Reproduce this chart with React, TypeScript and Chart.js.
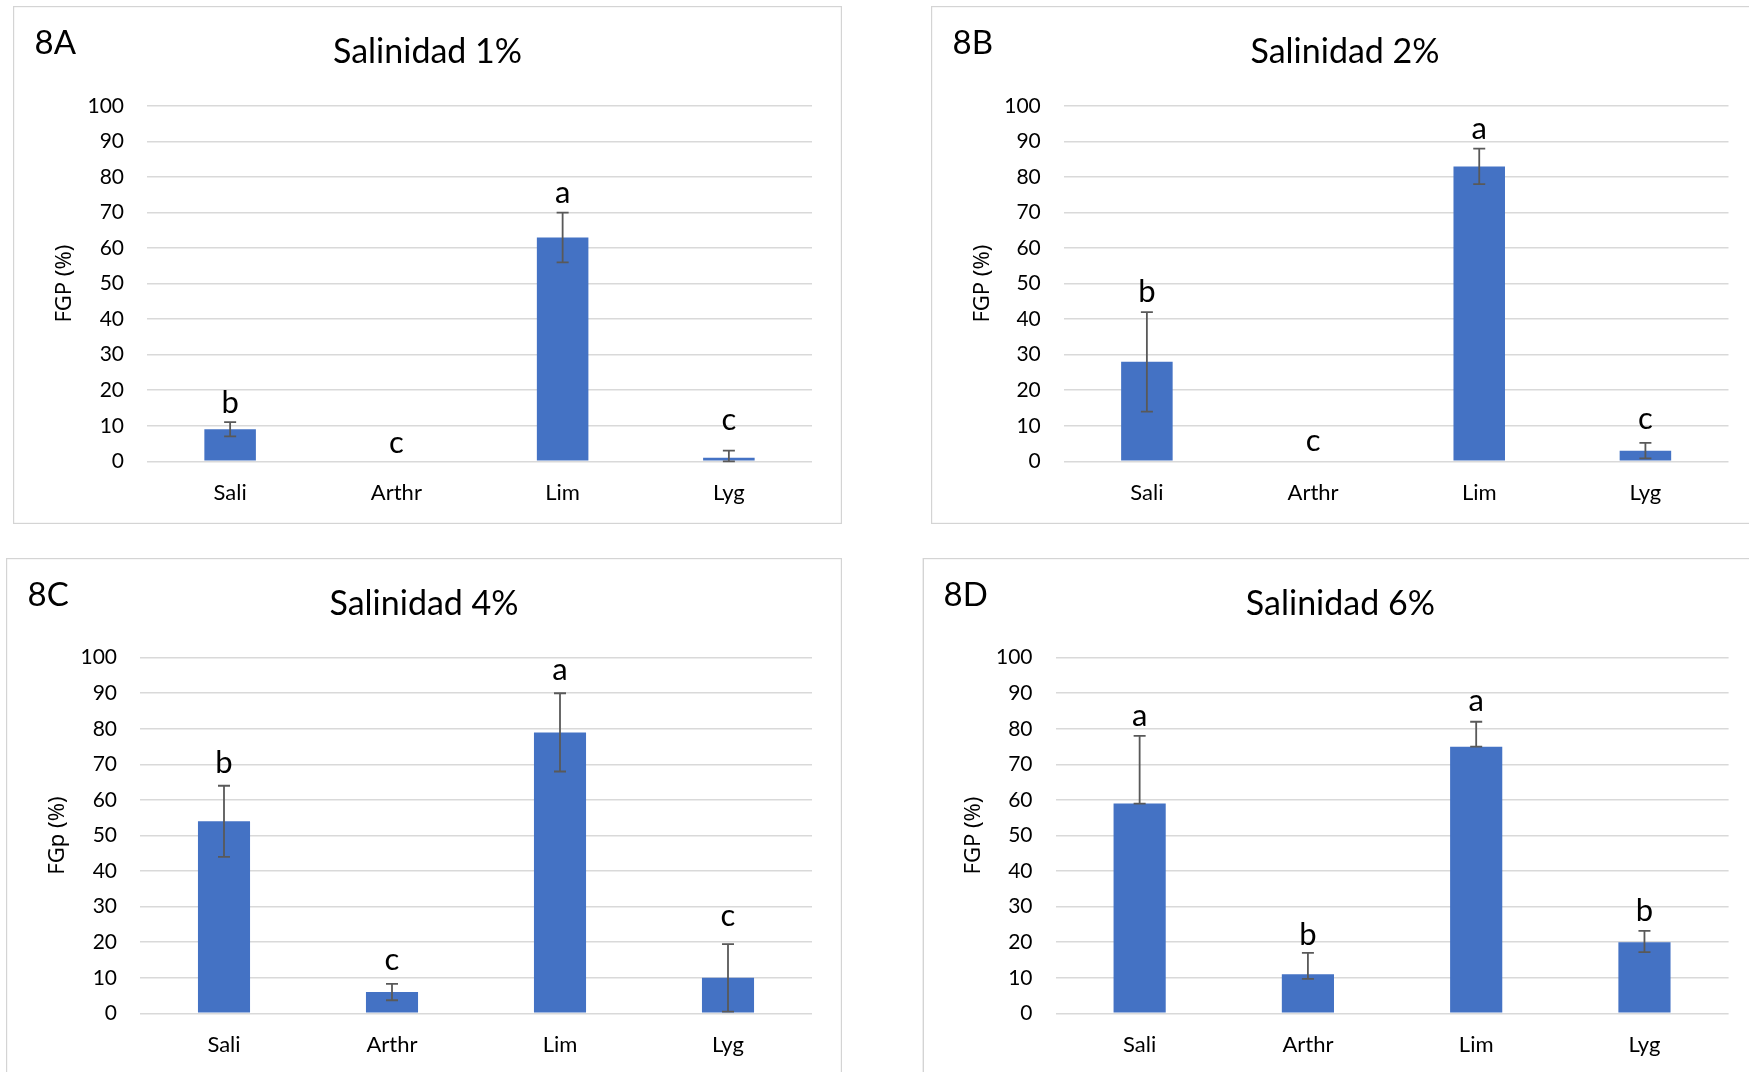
import React, { useEffect, useRef } from "react";
import { Chart, registerables } from "chart.js";

Chart.register(...registerables);

// ---------- data ----------
const categories = ["Sali", "Arthr", "Lim", "Lyg"];
const yMin = 0;
const yMax = 100;
const yStep = 10;

const panelLabels = ["8A", "8B", "8C", "8D"];
const panelTitles = ["Salinidad 1%", "Salinidad 2%", "Salinidad 4%", "Salinidad 6%"];
const yTitles = ["FGP (%)", "FGP (%)", "FGp (%)", "FGP (%)"];

const valuesA = [9, 0, 63, 1];
const errUpA = [2, 0, 7, 2];
const errDownA = [2, 0, 7, 2];
const lettersA = ["b", "c", "a", "c"];

const valuesB = [28, 0, 83, 3];
const errUpB = [14, 0, 5, 2.2];
const errDownB = [14, 0, 5, 2.2];
const lettersB = ["b", "c", "a", "c"];

const valuesC = [54, 6, 79, 10];
const errUpC = [10, 2.3, 11, 9.5];
const errDownC = [10, 2.3, 11, 9.5];
const lettersC = ["b", "c", "a", "c"];

const valuesD = [59, 11, 75, 20];
const errUpD = [19, 6, 7, 3.2];
const errDownD = [0, 1.3, 0, 2.8];
const lettersD = ["a", "b", "a", "b"];

// ---------- layout (positions / styles) ----------
const BAR_COLOR = "#4472C4";
const GRID_COLOR = "#D9D9D9";
const ERR_COLOR = "#595959";
const BORDER_COLOR = "#D4D4D4";
const FONT = "Lato";

type Geo = {
  left: number; top: number; w: number; h: number;
  area: { l: number; r: number; t: number; b: number };
  border: { x: number; y: number; w: number; h: number };
  titleX: number;
  letterGap: number[];
};

const geos: Geo[] = [
  { left: 13, top: 6, w: 829, h: 518, area: { l: 134, r: 799, t: 100, b: 455.3 }, border: { x: 0.5, y: 0.5, w: 828, h: 517 }, titleX: 414.5, letterGap: [9.5, 8.5, 10, 21] },
  { left: 931, top: 6, w: 818, h: 518, area: { l: 132.8, r: 797.5, t: 100, b: 455.3 }, border: { x: 0.5, y: 0.5, w: 900, h: 517 }, titleX: 414, letterGap: [10, 10, 9.5, 14] },
  { left: 6, top: 558, w: 836, h: 514, area: { l: 134, r: 806, t: 99.7, b: 455.4 }, border: { x: 0.5, y: 0.5, w: 835, h: 600 }, titleX: 418, letterGap: [12.5, 13.5, 13, 18] },
  { left: 922, top: 558, w: 827, h: 514, area: { l: 133.5, r: 806.6, t: 99.7, b: 455.4 }, border: { x: 1.3, y: 0.5, w: 900, h: 600 }, titleX: 418.4, letterGap: [10, 8, 10.5, 9.5] },
];

type PanelData = {
  values: number[]; up: number[]; down: number[]; letters: string[];
  label: string; title: string; yTitle: string;
};

const panels: PanelData[] = [
  { values: valuesA, up: errUpA, down: errDownA, letters: lettersA, label: panelLabels[0], title: panelTitles[0], yTitle: yTitles[0] },
  { values: valuesB, up: errUpB, down: errDownB, letters: lettersB, label: panelLabels[1], title: panelTitles[1], yTitle: yTitles[1] },
  { values: valuesC, up: errUpC, down: errDownC, letters: lettersC, label: panelLabels[2], title: panelTitles[2], yTitle: yTitles[2] },
  { values: valuesD, up: errUpD, down: errDownD, letters: lettersD, label: panelLabels[3], title: panelTitles[3], yTitle: yTitles[3] },
];

function Panel({ data, geo }: { data: PanelData; geo: Geo }) {
  const ref = useRef<HTMLCanvasElement>(null);

  useEffect(() => {
    const canvas = ref.current;
    if (!canvas) return;
    const a = geo.area;

    const overlay = {
      id: "overlay",
      afterDatasetsDraw(chart: any) {
        const ctx = chart.ctx as CanvasRenderingContext2D;
        const meta = chart.getDatasetMeta(0);
        const ys = chart.scales.y;
        ctx.save();
        data.values.forEach((v, i) => {
          const x = meta.data[i].x;
          const up = data.up[i];
          const dn = data.down[i];
          const yTop = ys.getPixelForValue(v + up);
          const yBot = ys.getPixelForValue(Math.max(0, v - dn));
          if (up > 0 || dn > 0) {
            ctx.strokeStyle = ERR_COLOR;
            ctx.lineWidth = 1.8;
            ctx.beginPath();
            ctx.moveTo(x, yTop);
            ctx.lineTo(x, yBot);
            ctx.moveTo(x - 6, yTop);
            ctx.lineTo(x + 6, yTop);
            ctx.moveTo(x - 6, yBot);
            ctx.lineTo(x + 6, yBot);
            ctx.stroke();
          }
          ctx.fillStyle = "#000";
          ctx.font = `31px ${FONT}`;
          ctx.textAlign = "center";
          ctx.textBaseline = "alphabetic";
          ctx.fillText(data.letters[i], x, yTop - geo.letterGap[i]);
        });
        ctx.restore();
      },
      afterDraw(chart: any) {
        const ctx = chart.ctx as CanvasRenderingContext2D;
        const ca = chart.chartArea;
        ctx.save();
        // panel border
        ctx.strokeStyle = BORDER_COLOR;
        ctx.lineWidth = 1.4;
        ctx.strokeRect(geo.border.x, geo.border.y, geo.border.w, geo.border.h);
        // panel label
        ctx.fillStyle = "#000";
        ctx.textBaseline = "alphabetic";
        ctx.textAlign = "left";
        ctx.font = `33px ${FONT}`;
        ctx.fillText(data.label, 21.5, 48);
        // title
        ctx.textAlign = "center";
        ctx.font = `34px ${FONT}`;
        ctx.fillText(data.title, geo.titleX, 57);
        // y title
        ctx.translate(52, (ca.top + ca.bottom) / 2);
        ctx.rotate(-Math.PI / 2);
        ctx.textBaseline = "middle";
        ctx.font = `22px "Noto Sans"`;
        ctx.fillText(data.yTitle, 0, 0);
        ctx.restore();
      },
    };

    const chart = new Chart(canvas, {
      type: "bar",
      data: {
        labels: categories,
        datasets: [
          {
            data: data.values,
            backgroundColor: BAR_COLOR,
            borderWidth: 0,
            barPercentage: 0.31,
            categoryPercentage: 1,
          },
        ],
      },
      options: {
        responsive: false,
        animation: false,
        devicePixelRatio: 1,
        layout: { padding: { left: 0, top: a.t, right: geo.w - a.r, bottom: 0 } },
        plugins: { legend: { display: false }, title: { display: false }, tooltip: { enabled: false } },
        scales: {
          x: {
            grid: { display: false, drawTicks: false },
            border: { display: false },
            ticks: {
              color: "#000",
              font: { family: FONT, size: 22 },
              padding: 18,
              autoSkip: false,
              maxRotation: 0,
            },
            afterFit: (scale: any) => {
              scale.height = geo.h - a.b;
            },
          },
          y: {
            min: yMin,
            max: yMax,
            grid: { color: GRID_COLOR, lineWidth: 1.6, drawTicks: false },
            border: { display: false },
            ticks: {
              stepSize: yStep,
              color: "#000",
              font: { family: FONT, size: 21 },
              padding: 23,
            },
            afterFit: (scale: any) => {
              scale.width = a.l;
            },
          },
        },
      },
      plugins: [overlay],
    });

    let alive = true;
    if ((document as any).fonts && (document as any).fonts.load) {
      Promise.all([
        (document as any).fonts.load(`20px ${FONT}`),
        (document as any).fonts.load(`21px "Noto Sans"`),
      ]).then(() => {
        if (alive) chart.update();
      }).catch(() => {});
    }

    return () => {
      alive = false;
      chart.destroy();
    };
  }, [data, geo]);

  return (
    <canvas
      ref={ref}
      width={geo.w}
      height={geo.h}
      style={{ position: "absolute", left: geo.left, top: geo.top, width: geo.w, height: geo.h }}
    />
  );
}

export default function App() {
  return (
    <div
      style={{
        position: "fixed",
        left: 0,
        top: 0,
        width: 1749,
        height: 1072,
        overflow: "hidden",
        background: "#fff",
      }}
    >
      {panels.map((p, i) => (
        <Panel key={i} data={p} geo={geos[i]} />
      ))}
    </div>
  );
}
